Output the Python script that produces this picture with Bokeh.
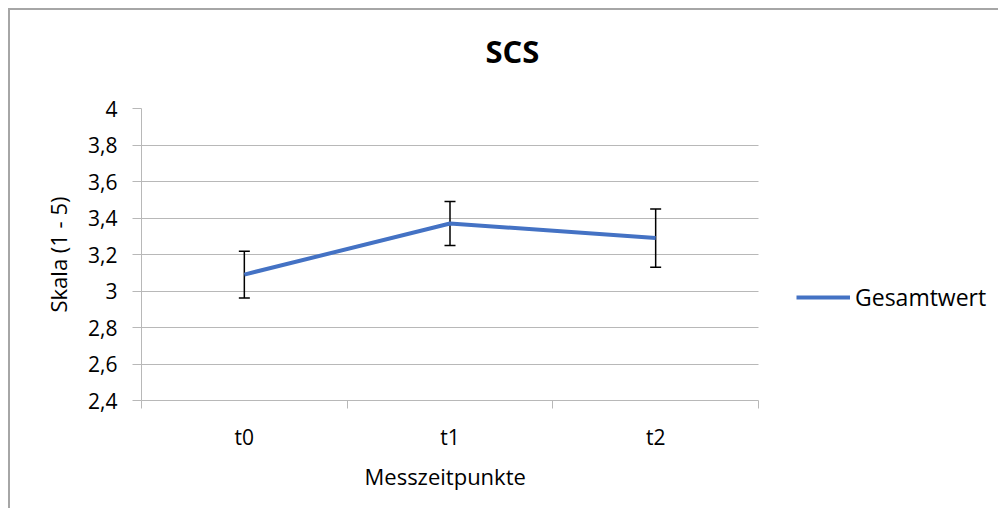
from bokeh.plotting import figure
from bokeh.models import (Range1d, FixedTicker, Whisker, TeeHead, ColumnDataSource,
                          Legend, LegendItem, Title, LinearAxis)
from bokeh.embed import file_html
from bokeh.resources import INLINE

# ---- data ----
categories = ["t0", "t1", "t2"]
means = [3.09, 3.37, 3.29]
errors = [0.128, 0.12, 0.16]
y_ticks = [2.4, 2.6, 2.8, 3.0, 3.2, 3.4, 3.6, 3.8, 4.0]
y_tick_labels = ["2,4", "2,6", "2,8", "3", "3,2", "3,4", "3,6", "3,8", "4"]
series_name = "Gesamtwert"
title_text = "SCS"
x_title = "Messzeitpunkte"
y_title = "Skala (1 - 5)"

FONT = "Open Sans"
GRID = "#b8b8b8"

# layout (pixels): plot area width 617, frame extended to the right for the legend
W, H = 990, 500
LEFT, TOP, BOTTOM = 131, 98, 110
AXIS_W = 617
n = len(categories)
frame_w = W - LEFT
x_end = n * frame_w / AXIS_W

xs = [i + 0.5 for i in range(n)]
src = ColumnDataSource(dict(
    x=xs, y=means,
    lower=[m - e for m, e in zip(means, errors)],
    upper=[m + e for m, e in zip(means, errors)],
))

p = figure(width=W, height=H, output_backend="svg", toolbar_location=None,
           x_range=Range1d(0, x_end), y_range=Range1d(y_ticks[0], y_ticks[-1]),
           min_border_left=LEFT, min_border_right=0, min_border_top=TOP,
           min_border_bottom=BOTTOM, title=None)
p.styles = {"margin-left": "8px", "margin-top": "8px",
            "border-top": "2px solid #a6a6a6", "border-left": "2px solid #a6a6a6"}
p.outline_line_color = None
p.background_fill_color = "white"
p.border_fill_color = "white"

# x axis (the one created by figure, below)
xa = p.below[0]
xa.ticker = FixedTicker(ticks=xs, minor_ticks=list(range(n + 1)))
xa.bounds = (0, n)
xa.major_label_overrides = {x: c for x, c in zip(xs, categories)}
xa.major_tick_line_color = None
xa.major_tick_out = 0
xa.major_tick_in = 0
xa.minor_tick_out = 8
xa.minor_tick_in = 0
xa.minor_tick_line_color = GRID
xa.axis_line_color = GRID
xa.major_label_standoff = 14
xa.major_label_text_font = FONT
xa.major_label_text_font_size = "21px"
xa.major_label_text_color = "black"

# x axis title, centred under the plot area (not under the extended frame)
xt = Title(text=x_title, align="left", offset=223, standoff=10,
           text_font=FONT, text_font_size="22px", text_font_style="normal",
           text_color="black")
p.add_layout(xt, "below")

# y axis
ya = p.left[0]
ya.ticker = FixedTicker(ticks=y_ticks)
ya.major_label_overrides = {t: l for t, l in zip(y_ticks, y_tick_labels)}
ya.major_tick_out = 9
ya.major_tick_in = 0
ya.minor_tick_line_color = None
ya.major_tick_line_color = GRID
ya.axis_line_color = GRID
ya.major_label_standoff = 15
ya.axis_label = y_title
ya.axis_label_standoff = 12
ya.major_label_text_font = FONT
ya.major_label_text_font_size = "21px"
ya.major_label_text_color = "black"
ya.axis_label_text_font = FONT
ya.axis_label_text_font_size = "22px"
ya.axis_label_text_font_style = "normal"
ya.axis_label_text_color = "black"

# invisible spacer between plot area and title (one hidden tick, empty label)
spacer = LinearAxis(ticker=FixedTicker(ticks=[xs[0]], minor_ticks=[]),
                    major_tick_out=32, major_tick_in=0,
                    major_label_standoff=0, major_label_text_font_size="1px",
                    major_label_overrides={xs[0]: ""},
                    axis_line_color=None,
                    major_tick_line_color=None, minor_tick_line_color=None)
p.add_layout(spacer, "above")

main_title = Title(text=title_text, align="left", offset=344, standoff=10,
                   text_font=FONT, text_font_size="31px", text_font_style="bold",
                   text_color="black")
p.add_layout(main_title, "above")

p.xgrid.grid_line_color = None
p.ygrid.grid_line_color = GRID
p.ygrid.grid_line_width = 1
try:
    p.ygrid.cross_bounds = (0, n)
except Exception:
    p.ygrid.grid_line_color = None
    p.segment(x0=[0] * len(y_ticks[1:]), x1=[n] * len(y_ticks[1:]),
              y0=y_ticks[1:], y1=y_ticks[1:], line_color=GRID, line_width=1)

line = p.line("x", "y", source=src, line_color="#4472C4", line_width=4)
w = Whisker(source=src, base="x", lower="lower", upper="upper",
            line_color="black", line_width=1.5,
            lower_head=TeeHead(size=11, line_color="black", line_width=1.5),
            upper_head=TeeHead(size=11, line_color="black", line_width=1.5))
p.add_layout(w)

legend = Legend(items=[LegendItem(label=series_name, renderers=[line])],
                location=(655, 87), orientation="vertical")
legend.glyph_width = 54
legend.glyph_height = 26
legend.label_standoff = 5
legend.padding = 0
legend.margin = 0
legend.border_line_color = None
legend.background_fill_alpha = 0
legend.label_text_font = FONT
legend.label_text_font_size = "23px"
legend.label_text_color = "black"
p.add_layout(legend, "center")

open("out.html", "w").write(file_html(p, INLINE))
